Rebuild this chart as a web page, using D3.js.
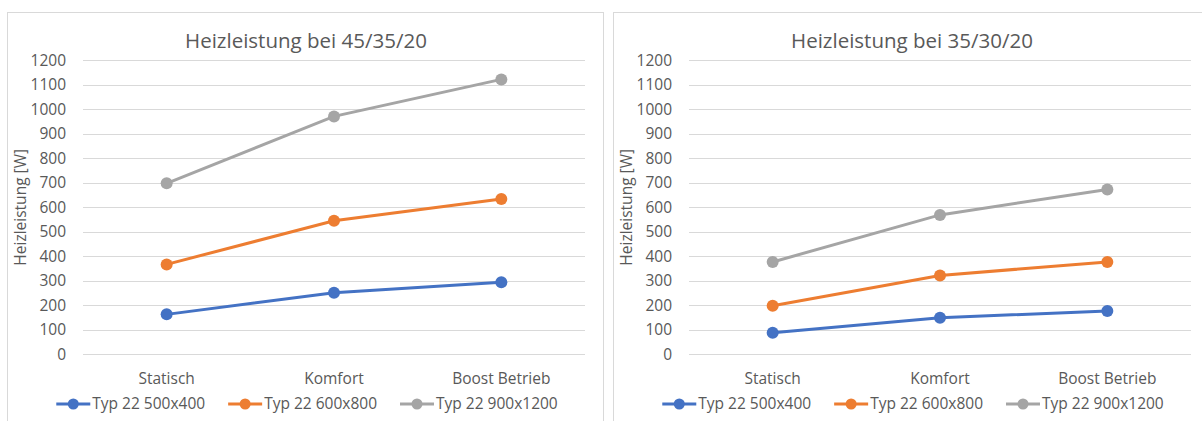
<!DOCTYPE html>
<html>
<head>
<meta charset="utf-8">
<script src="https://cdn.jsdelivr.net/npm/d3@7"></script>
<style>
  body { margin: 0; background: #fff; }
  svg text { font-family: "Open Sans", sans-serif; fill: #595959; }
</style>
</head>
<body>
<div id="chart"></div>
<script>
// Data
const categories = ["Statisch", "Komfort", "Boost Betrieb"];
const seriesNames = ["Typ 22 500x400", "Typ 22 600x800", "Typ 22 900x1200"];
const seriesColors = ["#4472C4", "#ED7D31", "#A5A5A5"];
const values_45_35 = [
    [163, 251, 294],
    [367, 545, 634],
    [698, 971, 1122]
];
const values_35_30 = [
    [88, 149, 177],
    [198, 322, 377],
    [377, 569, 673]
];
const yTicks = [0, 100, 200, 300, 400, 500, 600, 700, 800, 900, 1000, 1100, 1200];

const svg = d3.select("#chart")
    .append("svg")
    .attr("width", 1202)
    .attr("height", 421);

// Chart box size (Excel-like chart area)
const boxW = 596, boxH = 420;
const plot = { left: 76, right: 578, top: 48.3, bottom: 342.3 };
const labelSize = "15.5px";

function drawChart(x0, y0, title, values) {
    const g = svg.append("g").attr("transform", `translate(${x0},${y0})`);

    g.append("rect")
        .attr("x", 0.5).attr("y", 0.5)
        .attr("width", boxW).attr("height", boxH)
        .attr("fill", "#fff")
        .attr("stroke", "#d9d9d9");

    const x = d3.scalePoint().domain(categories).range([plot.left, plot.right]).padding(0.5);
    const y = d3.scaleLinear().domain([0, 1200]).range([plot.bottom, plot.top]);

    // Gridlines
    g.selectAll(".grid")
        .data(yTicks)
        .enter().append("line")
        .attr("x1", plot.left).attr("x2", plot.right)
        .attr("y1", d => Math.round(y(d)) + 0.5)
        .attr("y2", d => Math.round(y(d)) + 0.5)
        .attr("stroke", "#d9d9d9")
        .attr("stroke-width", 1);

    // Y tick labels
    g.selectAll(".ytick")
        .data(yTicks)
        .enter().append("text")
        .attr("x", plot.left - 17)
        .attr("y", d => y(d) + 5.5)
        .attr("text-anchor", "end")
        .style("font-size", labelSize)
        .text(d => d);

    // X category labels
    g.selectAll(".xtick")
        .data(categories)
        .enter().append("text")
        .attr("x", d => x(d))
        .attr("y", 372)
        .attr("text-anchor", "middle")
        .style("font-size", labelSize)
        .text(d => d);

    // Title
    g.append("text")
        .attr("x", boxW / 2 + 1)
        .attr("y", 36)
        .attr("text-anchor", "middle")
        .style("font-size", "20.5px")
        .text(title);

    // Y axis title
    g.append("text")
        .attr("transform", `translate(19,${(plot.top + plot.bottom) / 2}) rotate(-90)`)
        .attr("text-anchor", "middle")
        .style("font-size", labelSize)
        .text("Heizleistung [W]");

    // Lines and markers
    const line = d3.line()
        .x((d, i) => x(categories[i]))
        .y(d => y(d));

    values.forEach((vals, s) => {
        g.append("path")
            .datum(vals)
            .attr("d", line)
            .attr("fill", "none")
            .attr("stroke", seriesColors[s])
            .attr("stroke-width", 3)
            .attr("stroke-linecap", "round");

        g.selectAll(".dot" + s)
            .data(vals)
            .enter().append("circle")
            .attr("cx", (d, i) => x(categories[i]))
            .attr("cy", d => y(d))
            .attr("r", 6)
            .attr("fill", seriesColors[s]);
    });

    // Legend, centered below the plot
    const legend = g.append("g");
    const items = legend.selectAll(".item")
        .data(seriesNames)
        .enter().append("g");
    items.append("text")
        .attr("y", 397)
        .style("font-size", labelSize)
        .text(d => d);
    const widths = items.select("text").nodes().map(n => n.getComputedTextLength());
    const symW = 36, gap = 23;
    const total = d3.sum(widths) + seriesNames.length * symW + (seriesNames.length - 1) * gap;
    let cx = boxW / 2 + 2 - total / 2;
    items.each(function(d, i) {
        const it = d3.select(this);
        it.attr("transform", `translate(${cx},0)`);
        it.insert("line", "text")
            .attr("x1", 0).attr("x2", 34)
            .attr("y1", 392).attr("y2", 392)
            .attr("stroke", seriesColors[i])
            .attr("stroke-width", 3);
        it.insert("circle", "text")
            .attr("cx", 17).attr("cy", 392).attr("r", 5.5)
            .attr("fill", seriesColors[i]);
        it.select("text").attr("x", symW);
        cx += symW + widths[i] + gap;
    });
}

drawChart(7, 12, "Heizleistung bei 45/35/20", values_45_35);
drawChart(613, 12, "Heizleistung bei 35/30/20", values_35_30);
</script>
</body>
</html>
